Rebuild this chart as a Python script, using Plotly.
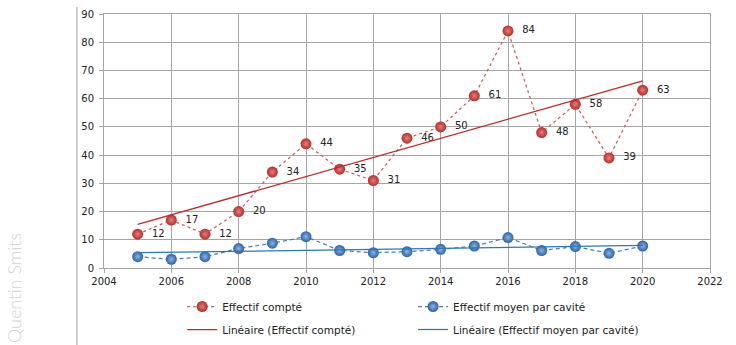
import numpy as np
import plotly.graph_objects as go

# Survey years and counts
years = [2005, 2006, 2007, 2008, 2009, 2010, 2011, 2012,
         2013, 2014, 2015, 2016, 2017, 2018, 2019, 2020]
effectif_compte = [12, 17, 12, 20, 34, 44, 35, 31, 46, 50, 61, 84, 48, 58, 39, 63]
effectif_moyen = [4.0, 3.1, 4.0, 6.9, 8.8, 11.1, 6.2, 5.4,
                  5.8, 6.6, 7.8, 10.8, 6.2, 7.6, 5.2, 7.8]

x_ticks = [2004, 2006, 2008, 2010, 2012, 2014, 2016, 2018, 2020, 2022]
y_ticks = [0, 10, 20, 30, 40, 50, 60, 70, 80, 90]

FONT = "DejaVu Sans"
RED_LINE = "#CD5C5A"
RED_TREND = "#B8292A"
BLUE_LINE = "#4A7EBB"
BLUE_TREND = "#2A78B8"
GRID = "#A6A6A6"
H = 345


def linear_fit(xs, ys):
    slope, intercept = np.polyfit(xs, ys, 1)
    xa = np.array([xs[0], xs[-1]], dtype=float)
    return xa, slope * xa + intercept


fig = go.Figure()

fig.add_trace(go.Scatter(
    x=years, y=effectif_compte, name="Effectif compté",
    mode="lines+markers+text",
    line=dict(color=RED_LINE, width=1.25, dash="3px,3px"),
    marker=dict(size=11, color="#B0302C",
                gradient=dict(type="radial", color="#EC7A75"),
                line=dict(width=0)),
    text=[str(v) for v in effectif_compte],
    texttemplate="  %{text}",
    textposition="middle right",
    textfont=dict(family=FONT, size=10, color="#222222"),
    legend="legend",
))

fig.add_trace(go.Scatter(
    x=years, y=effectif_moyen, name="Effectif moyen par cavité",
    mode="lines+markers",
    line=dict(color=BLUE_LINE, width=1.25, dash="4px,3px"),
    marker=dict(size=11, color="#2E62A2",
                gradient=dict(type="radial", color="#86B3E6"),
                line=dict(width=0)),
    legend="legend2",
))

tx, ty = linear_fit(years, effectif_compte)
fig.add_trace(go.Scatter(
    x=tx, y=ty, name="Linéaire (Effectif compté)", mode="lines",
    line=dict(color=RED_TREND, width=1.25),
    legend="legend",
))

bx, by = linear_fit(years, effectif_moyen)
fig.add_trace(go.Scatter(
    x=bx, y=by, name="Linéaire (Effectif moyen par cavité)", mode="lines",
    line=dict(color=BLUE_TREND, width=1.25),
    legend="legend2",
))

legend_common = dict(
    orientation="v", xanchor="left", yanchor="top", yref="container",
    font=dict(family=FONT, size=10.5, color="#222222"),
    bgcolor="rgba(0,0,0,0)", borderwidth=0,
    tracegroupgap=4, itemwidth=30,
)

legend_top = 1 - 292 / H

fig.update_layout(
    width=736, height=H,
    margin=dict(l=104, r=26, t=14, b=77, autoexpand=False),
    paper_bgcolor="white", plot_bgcolor="white",
    font=dict(family=FONT, size=10, color="#222222"),
    showlegend=True,
    legend=dict(x=0.129, y=legend_top, **legend_common),
    legend2=dict(x=0.51, y=legend_top, **legend_common),
    xaxis=dict(
        range=[2004, 2022], tickvals=x_ticks, ticktext=[str(v) for v in x_ticks],
        showgrid=True, gridcolor=GRID, gridwidth=1,
        showline=True, linecolor=GRID, linewidth=1, mirror=True,
        ticks="outside", ticklen=4, tickcolor=GRID,
        tickfont=dict(family=FONT, size=10, color="#222222"),
        zeroline=False, automargin=False,
    ),
    yaxis=dict(
        range=[0, 90], tickvals=y_ticks,
        showgrid=True, gridcolor=GRID, gridwidth=1,
        showline=True, linecolor=GRID, linewidth=1, mirror=True,
        ticks="outside", ticklen=4, tickcolor=GRID,
        tickfont=dict(family=FONT, size=10, color="#222222"),
        ticklabelstandoff=3,
        zeroline=False, automargin=False,
    ),
    shapes=[dict(
        type="line", xref="paper", yref="paper",
        x0=-0.0446, x1=-0.0446, y0=-0.31, y1=1.028,
        line=dict(color="#A0A0A0", width=1),
    )],
    annotations=[dict(
        text="Quentin Smits", xref="paper", yref="paper",
        x=-0.1485, y=-(288 - 268) / 254, xanchor="center", yanchor="middle",
        textangle=-90, showarrow=False,
        font=dict(family="Lato", size=18, color="#D2D2D2", weight=300),
    )],
)

for k in range(len(fig.data)):
    fig.data[k].legendgroup = f"g{k}"

fig.write_html("out.html")
